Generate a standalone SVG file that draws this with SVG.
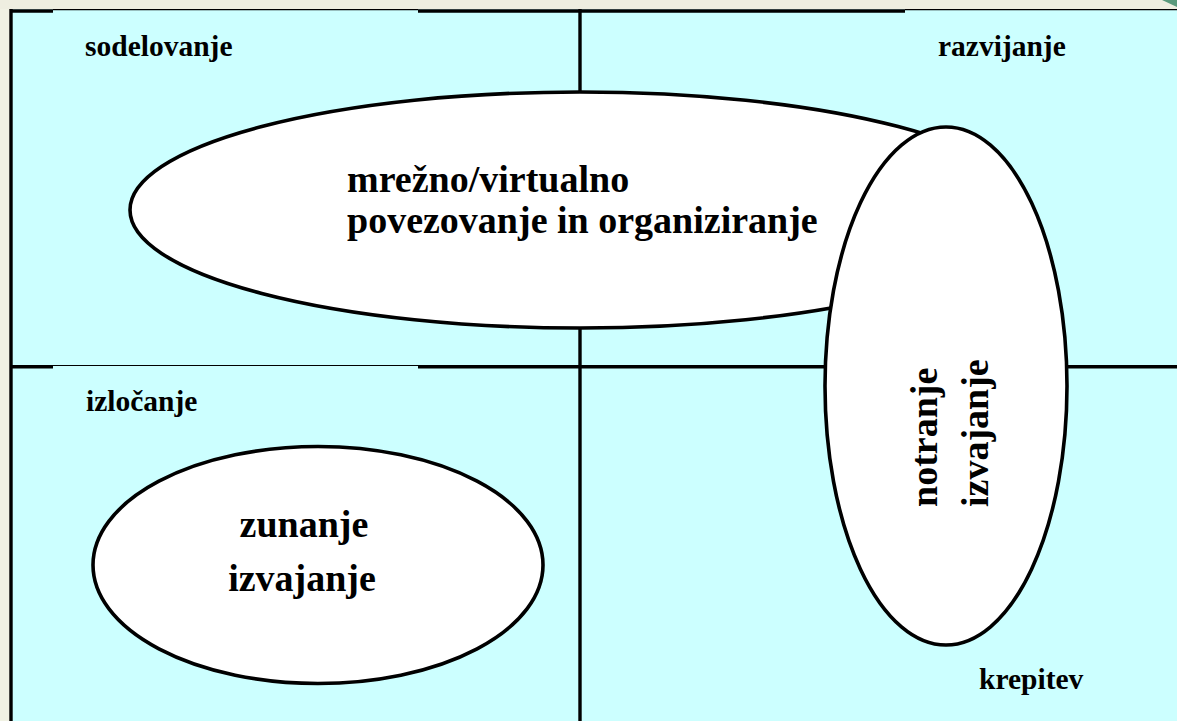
<svg xmlns="http://www.w3.org/2000/svg" width="1177" height="721" viewBox="0 0 1177 721">
<style>
.lbl{font-family:"Liberation Serif","Times New Roman",serif;font-weight:bold;font-size:29.5px;fill:#000}
.big{font-family:"Liberation Serif","Times New Roman",serif;font-weight:bold;font-size:38px;fill:#000}
.ell{fill:#fff;stroke:#000;stroke-width:3.6}
.thick{stroke:#000;stroke-width:3.4}
.thin{stroke:#000;stroke-width:1.2}
</style>
<rect x="0" y="0" width="1177" height="721" fill="#EEEEE0"/>
<rect x="0" y="9" width="10" height="712" fill="#F1F2E4"/>
<polygon points="1162,0 1177,0 1177,7" fill="#5A9A7C"/>
<rect x="10" y="9" width="1167" height="712" fill="#CCFFFF"/>
<g id="grid">
  <line class="thick" x1="11" y1="9" x2="11" y2="721"/>
  <line class="thick" x1="580" y1="9" x2="580" y2="721"/>
  <line class="thick" x1="10" y1="11" x2="53" y2="11"/>
  <line class="thin" x1="53" y1="9.6" x2="418" y2="9.6"/>
  <line class="thick" x1="418" y1="11" x2="905" y2="11"/>
  <line class="thin" x1="905" y1="9.6" x2="1177" y2="9.6"/>
  <line class="thick" x1="10" y1="366.7" x2="53" y2="366.7"/>
  <line class="thin" x1="53" y1="365.5" x2="418" y2="365.5"/>
  <line class="thick" x1="418" y1="366.7" x2="1177" y2="366.7"/>
</g>
<g id="labels">
  <text class="lbl" x="85" y="56">sodelovanje</text>
  <text class="lbl" x="938" y="56">razvijanje</text>
  <text class="lbl" x="86" y="411">izločanje</text>
  <text class="lbl" x="979" y="689">krepitev</text>
</g>
<g id="node-mrezno">
  <ellipse class="ell" cx="580" cy="210" rx="450" ry="118"/>
  <text class="big" x="347" y="192">mrežno/virtualno</text>
  <text class="big" x="347" y="233">povezovanje in organiziranje</text>
</g>
<g id="node-notranje">
  <ellipse class="ell" cx="946" cy="386" rx="121" ry="259"/>
  <text class="big" transform="translate(937,507) rotate(-90)">notranje</text>
  <text class="big" transform="translate(988,507) rotate(-90)">izvajanje</text>
</g>
<g id="node-zunanje">
  <ellipse class="ell" cx="318" cy="565" rx="225" ry="118.5"/>
  <text class="big" x="304" y="537" text-anchor="middle">zunanje</text>
  <text class="big" x="302" y="591" text-anchor="middle">izvajanje</text>
</g>
</svg>
